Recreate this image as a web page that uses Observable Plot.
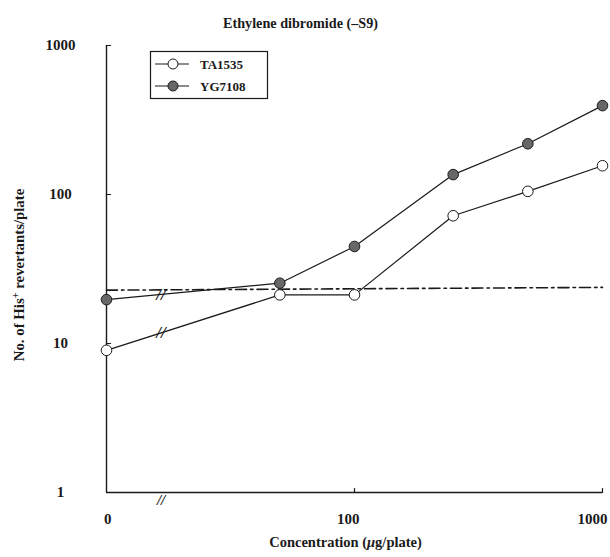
<!DOCTYPE html>
<html>
<head>
<meta charset="utf-8">
<script src="https://cdn.jsdelivr.net/npm/d3@7"></script>
<script src="https://cdn.jsdelivr.net/npm/@observablehq/plot@0.6"></script>
<style>
  html, body { margin: 0; padding: 0; background: #fff; }
  #chart svg { display: block; }
</style>
</head>
<body>
<div id="chart"></div>
<script>
// Ames test: His+ revertants per plate vs. ethylene dibromide dose (without S9)
const doses = [0, 50, 100, 250, 500, 1000];
const ta1535 = [9, 21.2, 21.2, 72, 105, 156];
const yg7108 = [19.7, 25.4, 44.8, 136, 219, 395];
const seriesNames = ["TA1535", "YG7108"];
const yTicks = [1, 10, 100, 1000];
const xTickValues = [0, 100, 1000];
const xTickLabels = ["0", "100", "1000"];
const refDoses = [0, 1000];
const refLevel = [22.8, 23.8];   // dash-dot reference line
const titleText = "Ethylene dibromide (\u2013S9)";
const xLabelText = "Concentration (\u03bcg/plate)";
const yLabelText = "No. of His+ revertants/plate";

// the zero dose sits on the broken log axis one decade below 100
const ZERO_AT = 10;
const BREAK_AT = 16.6;
const xPos = d => d === 0 ? ZERO_AT : d;

const ink = "#1a1a1a";
const serif = "'Liberation Serif', 'Times New Roman', serif";

const rows = [];
doses.forEach((d, i) => {
  rows.push({series: seriesNames[0], dose: d, value: ta1535[i]});
  rows.push({series: seriesNames[1], dose: d, value: yg7108[i]});
});
const refRows = refDoses.map((d, i) => ({dose: d, value: refLevel[i]}));

// position of the "//" break on each line between the zero dose and 50
const breakRows = [ta1535, yg7108].map(vals => {
  const t = (Math.log10(BREAK_AT) - Math.log10(ZERO_AT)) / (Math.log10(doses[1]) - Math.log10(ZERO_AT));
  const ly = Math.log10(vals[0]) + t * (Math.log10(vals[1]) - Math.log10(vals[0]));
  return {x: BREAK_AT, y: Math.pow(10, ly)};
});

const tickShape = {draw(ctx, l) { ctx.moveTo(0, 0); ctx.lineTo(0, -l); }};

const fillOf = {TA1535: "#ffffff", YG7108: "#676767"};

const chart = Plot.plot({
  width: 610,
  height: 557,
  marginLeft: 106,
  marginRight: 8,
  marginTop: 45,
  marginBottom: 65,
  style: {fontFamily: serif, fontWeight: "bold", color: ink, background: "#fff", overflow: "visible"},
  x: {type: "log", domain: [ZERO_AT, 1000], axis: null},
  y: {type: "log", domain: [1, 1000], axis: null},
  marks: [
    // axes
    Plot.ruleX([ZERO_AT], {y1: 1, y2: 1000, stroke: ink, strokeWidth: 1.4}),
    Plot.ruleY([1], {x1: ZERO_AT, x2: 1000, stroke: ink, strokeWidth: 1.4}),
    Plot.vector(yTicks.slice(1), {x: () => ZERO_AT, y: d => d, length: 4, rotate: 90, anchor: "start", shape: tickShape, stroke: ink, strokeWidth: 1.2}),
    Plot.vector(xTickValues.slice(1), {x: d => d, y: () => 1, length: 4, rotate: 0, anchor: "start", shape: tickShape, stroke: ink, strokeWidth: 1.2}),
    Plot.text(yTicks, {x: () => ZERO_AT, y: d => d, text: d => String(d), dx: -46, textAnchor: "middle", fontSize: 15}),
    Plot.text(xTickValues, {x: d => xPos(d), y: () => 1, text: (d, i) => xTickLabels[i], dy: 27, dx: 5, textAnchor: "end", fontSize: 15}),
    Plot.text(["//"], {x: () => BREAK_AT, y: () => 1, dy: 8, fontSize: 15, fontStyle: "italic", fontWeight: "bold"}),
    // dash-dot reference level
    Plot.line(refRows, {x: d => xPos(d.dose), y: "value", stroke: ink, strokeWidth: 1.6, strokeDasharray: "11,4,2.5,4"}),
    // series
    Plot.line(rows, {x: d => xPos(d.dose), y: "value", z: "series", stroke: ink, strokeWidth: 1.2}),
    Plot.text(breakRows, {x: "x", y: "y", text: () => "//", fontSize: 17, fontStyle: "italic", fontWeight: "bold"}),
    Plot.dot(rows, {x: d => xPos(d.dose), y: "value", r: 5.3, fill: d => fillOf[d.series], stroke: ink, strokeWidth: 1}),
    // titles
    Plot.text([titleText], {frameAnchor: "top", textAnchor: "middle", dx: -54, dy: -28, fontSize: 14.2}),
    Plot.text([xLabelText], {frameAnchor: "bottom", textAnchor: "middle", dx: -9, dy: 54, fontSize: 14.5}),
    Plot.text([yLabelText], {frameAnchor: "left", textAnchor: "middle", dx: -87, dy: 6, rotate: -90, fontSize: 14.8})
  ]
});

document.getElementById("chart").appendChild(chart);

const svg = d3.select(chart);

// superscript "+" after His, italic mu in the unit
svg.selectAll("text").each(function() {
  const el = d3.select(this);
  const s = this.textContent;
  if (s === yLabelText) {
    const [a, b] = s.split("His+");
    el.text(null);
    el.append("tspan").text(a + "His");
    el.append("tspan").attr("baseline-shift", "super").attr("font-size", "70%").text("+");
    el.append("tspan").text(b);
  } else if (s === xLabelText) {
    const [a, b] = s.split("\u03bc");
    el.text(null);
    el.append("tspan").text(a);
    el.append("tspan").attr("font-style", "italic").text("\u03bc");
    el.append("tspan").text(b);
  }
});

// legend box
const legend = svg.append("g")
  .attr("font-family", serif).attr("font-weight", "bold").attr("font-size", 13)
  .attr("text-anchor", "start");
legend.append("rect")
  .attr("x", 150.5).attr("y", 51.5).attr("width", 117).attr("height", 47)
  .attr("fill", "#fff").attr("stroke", ink).attr("stroke-width", 1.2);
seriesNames.forEach((name, i) => {
  const cy = 64 + i * 22;
  legend.append("line")
    .attr("x1", 155).attr("x2", 189).attr("y1", cy).attr("y2", cy)
    .attr("stroke", ink).attr("stroke-width", 1.2);
  legend.append("circle")
    .attr("cx", 173).attr("cy", cy).attr("r", 5)
    .attr("fill", fillOf[name]).attr("stroke", ink).attr("stroke-width", 1);
  legend.append("text")
    .attr("x", 200).attr("y", cy).attr("dy", "0.35em").attr("fill", ink).text(name);
});
</script>
</body>
</html>
